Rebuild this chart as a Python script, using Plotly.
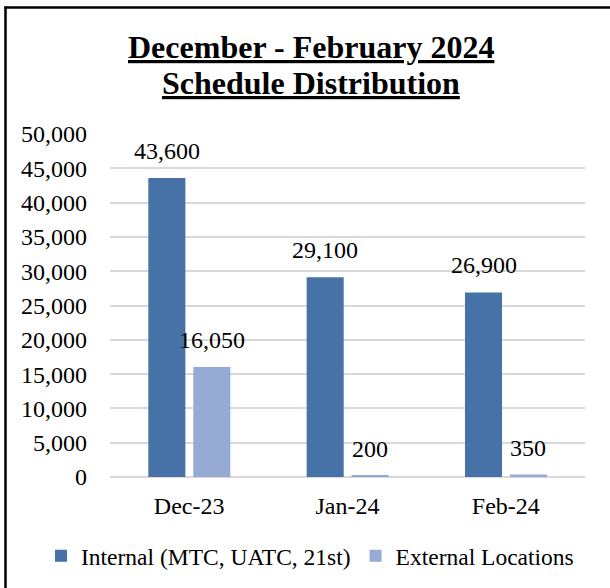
import plotly.graph_objects as go

categories = ["Dec-23", "Jan-24", "Feb-24"]
internal = [43600, 29100, 26900]
external = [16050, 200, 350]
tick_vals = [0, 5000, 10000, 15000, 20000, 25000, 30000, 35000, 40000, 45000, 50000]
series_names = ["Internal (MTC, UATC, 21st)", "External Locations"]
title_lines = ["December - February 2024", "Schedule Distribution"]

FONT = "Liberation Serif, Times New Roman, serif"
W, H = 610, 588
L, R, T, B = 110, 25, 134, 111
pw, ph = W - L - R, H - T - B
cat_px = pw / len(categories)

BAR_W = 0.234
OFFSETS = [-0.258, 0.026]
COLORS = ["#4672a8", "#95abd4"]


def px_x(x):
    return (x - L) / pw


def px_y(y):
    return (H - B - y) / ph


fig = go.Figure()
for name, vals, off, col in zip(series_names, [internal, external], OFFSETS, COLORS):
    fig.add_trace(go.Bar(
        x=categories, y=vals, name=name,
        marker=dict(color=col, line=dict(width=0)),
        width=BAR_W, offset=off,
    ))
    shift = (off + BAR_W / 2) * cat_px
    for c, v in zip(categories, vals):
        fig.add_annotation(
            x=c, y=v, text=f"{v:,}", showarrow=False,
            xshift=shift, yshift=12, yanchor="bottom", xanchor="center",
            font=dict(family=FONT, size=24, color="#000"),
        )

for line, ycen in zip(title_lines, [47.5, 82.5]):
    fig.add_annotation(
        xref="paper", yref="paper", x=px_x(310.5), y=px_y(ycen),
        xanchor="center", yanchor="middle", showarrow=False,
        text=f"<b><u>{line}</u></b>",
        font=dict(family=FONT, size=32, color="#000"),
    )

fig.update_layout(
    width=W, height=H,
    margin=dict(l=L, r=R, t=T, b=B, autoexpand=False),
    paper_bgcolor="white", plot_bgcolor="white",
    barmode="overlay",
    font=dict(family=FONT, size=24, color="#000"),
    legend=dict(
        orientation="h", xref="paper", yref="paper",
        x=px_x(41), xanchor="left", y=px_y(556), yanchor="middle",
        font=dict(family=FONT, size=23.5, color="#000"),
        itemwidth=30, traceorder="normal",
    ),
    xaxis=dict(
        showgrid=False, showline=False, ticks="",
        tickfont=dict(family=FONT, size=24, color="#000"),
        ticklabelstandoff=12,
    ),
    yaxis=dict(
        range=[0, 50000], tickvals=tick_vals, tickformat=",",
        showgrid=True, gridcolor="#d9d9d9", gridwidth=1.5,
        zeroline=True, zerolinecolor="#d9d9d9", zerolinewidth=1.5,
        showline=False, ticks="",
        tickfont=dict(family=FONT, size=24, color="#000"),
        ticklabelstandoff=22,
    ),
    shapes=[
        dict(type="line", xref="paper", yref="paper",
             x0=px_x(4.5), x1=px_x(615), y0=px_y(7.5), y1=px_y(7.5),
             line=dict(color="#000", width=2.5)),
        dict(type="line", xref="paper", yref="paper",
             x0=px_x(5.5), x1=px_x(5.5), y0=px_y(6.5), y1=px_y(595),
             line=dict(color="#000", width=2.5)),
    ],
)

fig.write_html(
    "out.html",
    config={"displayModeBar": False},
    post_script="document.body.style.margin='0';document.body.style.overflow='hidden';",
)
